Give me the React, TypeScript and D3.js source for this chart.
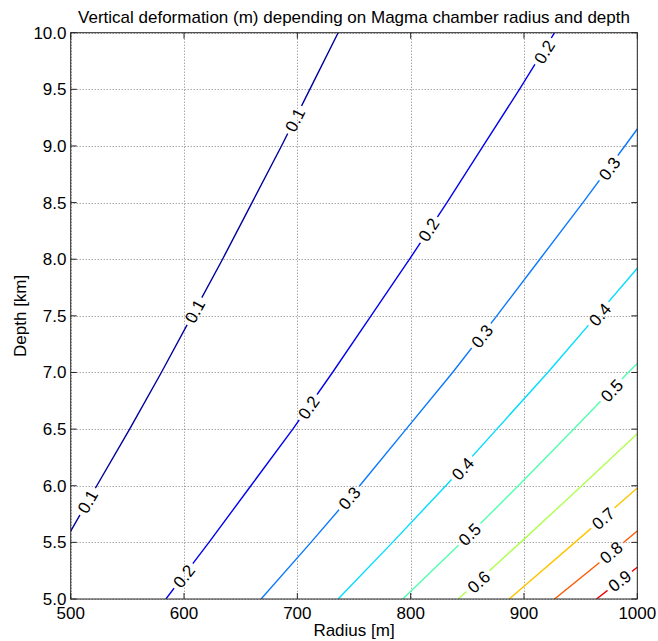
import React from "react";
import * as d3 from "d3";

const W = 658;
const H = 641;
const plotLeft = 70.7;
const plotRight = 637.3;
const plotTop = 32.7;
const plotBottom = 599;

const FONT = "'Liberation Sans', Arial, Helvetica, sans-serif";

const titleText = "Vertical deformation (m) depending on Magma chamber radius and depth";
const xLabelText = "Radius [m]";
const yLabelText = "Depth [km]";

const xTicks = [500, 600, 700, 800, 900, 1000];
const xTickLabels = ["500", "600", "700", "800", "900", "1000"];
const yTicks = [5.0, 5.5, 6.0, 6.5, 7.0, 7.5, 8.0, 8.5, 9.0, 9.5, 10.0];
const yTickLabels = ["5.0", "5.5", "6.0", "6.5", "7.0", "7.5", "8.0", "8.5", "9.0", "9.5", "10.0"];

const contourLevels = [0.1, 0.2, 0.3, 0.4, 0.5, 0.6, 0.7, 0.8, 0.9];
const levelColors = ["#0000a0", "#0000f0", "#0a78ff", "#00ddff", "#50ffaf", "#afff50", "#ffc400", "#ff5a00", "#f00000"];

// contour lines as [radius (m), depth (km)]
const contour01 = [[500, 5.6], [523, 6.0], [552, 6.5], [580, 7.0], [607, 7.5], [634, 8.0], [660, 8.5], [686, 9.0], [711, 9.5], [736, 10.0]];
const contour02 = [[584, 5.0], [622, 5.5], [659, 6.0], [696, 6.5], [731, 7.0], [765, 7.5], [799, 8.0], [832, 8.5], [864, 9.0], [896, 9.5], [927, 10.0]];
const contour03 = [[668, 5.0], [712, 5.5], [755, 6.0], [796, 6.5], [837, 7.0], [876, 7.5], [914, 8.0], [952, 8.5], [989, 9.0], [1000, 9.15]];
const contour04 = [[736, 5.0], [784, 5.5], [831, 6.0], [876, 6.5], [921, 7.0], [964, 7.5], [1000, 7.92]];
const contour05 = [[793, 5.0], [845, 5.5], [895, 6.0], [944, 6.5], [992, 7.0], [1000, 7.08]];
const contour06 = [[842, 5.0], [897, 5.5], [951, 6.0], [1000, 6.46]];
const contour07 = [[887, 5.0], [945, 5.5], [1000, 5.98]];
const contour08 = [[927, 5.0], [964, 5.3], [1000, 5.6]];
const contour09 = [[964, 5.0], [982, 5.14], [1000, 5.28]];

// inline label positions [radius, depth]
const labels01 = [[515, 5.86], [609.5, 7.54], [698, 9.23]];
const labels02 = [[600, 5.2], [710, 6.69], [816, 8.26], [918, 9.83]];
const labels03 = [[746, 5.89], [863, 7.32], [975.5, 8.8]];
const labels04 = [[846, 6.15], [967, 7.51]];
const labels05 = [[852, 5.57], [977.5, 6.84]];
const labels06 = [[860, 5.15]];
const labels07 = [[970, 5.71]];
const labels08 = [[977, 5.41]];
const labels09 = [[984.5, 5.16]];

const contourLines = [contour01, contour02, contour03, contour04, contour05, contour06, contour07, contour08, contour09];
const contourLabels = [labels01, labels02, labels03, labels04, labels05, labels06, labels07, labels08, labels09];

const FS = 17;

export default function App() {
  const x = d3.scaleLinear().domain([500, 1000]).range([plotLeft, plotRight]);
  const y = d3.scaleLinear().domain([5, 10]).range([plotBottom, plotTop]);
  const line = d3
    .line<number[]>()
    .x((d) => x(d[0]))
    .y((d) => y(d[1]));

  const labelItems: { cx: number; cy: number; angle: number; text: string; color: string; key: string }[] = [];
  contourLabels.forEach((labs, li) => {
    const pts = contourLines[li];
    labs.forEach((p, k) => {
      let i = 0;
      for (let j = 0; j < pts.length - 1; j++) {
        if (p[1] >= pts[j][1] && p[1] <= pts[j + 1][1]) {
          i = j;
          break;
        }
      }
      const a = pts[i];
      const b = pts[i + 1];
      const dx = x(b[0]) - x(a[0]);
      const dy = y(b[1]) - y(a[1]);
      const angle = (Math.atan2(dy, dx) * 180) / Math.PI;
      labelItems.push({
        cx: x(p[0]),
        cy: y(p[1]),
        angle,
        text: String(contourLevels[li]),
        color: levelColors[li],
        key: `${li}-${k}`,
      });
    });
  });

  const gapW = 31;
  const gapH = 16;
  const tickLen = 6;
  const axisColor = "#262626";

  return (
    <svg
      width={W}
      height={H}
      style={{ position: "absolute", left: 0, top: 0, background: "#fff" }}
      fontFamily={FONT}
    >
      <defs>
        <clipPath id="plotClip">
          <rect x={plotLeft} y={plotTop} width={plotRight - plotLeft} height={plotBottom - plotTop} />
        </clipPath>
        <mask id="gapMask" maskUnits="userSpaceOnUse" x={0} y={0} width={W} height={H}>
          <rect x={0} y={0} width={W} height={H} fill="white" />
          {labelItems.map((l) => (
            <rect
              key={l.key}
              x={-gapW / 2}
              y={-gapH / 2}
              width={gapW}
              height={gapH}
              fill="black"
              transform={`translate(${l.cx},${l.cy}) rotate(${l.angle})`}
            />
          ))}
        </mask>
      </defs>
      <rect x={0} y={0} width={W} height={H} fill="#fff" />

      {/* grid */}
      <g stroke="#808080" strokeWidth={1} strokeDasharray="1,2">
        {xTicks.map((t) => (
          <line key={`gx${t}`} x1={Math.round(x(t)) + 0.5} x2={Math.round(x(t)) + 0.5} y1={plotTop} y2={plotBottom} />
        ))}
        {yTicks.map((t) => (
          <line key={`gy${t}`} x1={plotLeft} x2={plotRight} y1={Math.round(y(t)) + 0.5} y2={Math.round(y(t)) + 0.5} />
        ))}
      </g>

      {/* contour lines */}
      <g clipPath="url(#plotClip)">
        <g mask="url(#gapMask)">
          {contourLines.map((pts, i) => (
            <path key={`c${i}`} d={line(pts) || ""} fill="none" stroke={levelColors[i]} strokeWidth={1.4} />
          ))}
        </g>
      </g>

      {/* contour labels */}
      {labelItems.map((l) => (
        <text
          key={`t${l.key}`}
          transform={`translate(${l.cx},${l.cy}) rotate(${l.angle})`}
          textAnchor="middle"
          dy="0.35em"
          fontSize={FS}
          fill="#000"
        >
          {l.text}
        </text>
      ))}

      {/* box and ticks */}
      <g stroke={axisColor} strokeWidth={1}>
        <rect
          x={plotLeft}
          y={plotTop}
          width={plotRight - plotLeft}
          height={plotBottom - plotTop}
          fill="none"
        />
        {xTicks.map((t) => (
          <g key={`tx${t}`}>
            <line x1={x(t)} x2={x(t)} y1={plotBottom} y2={plotBottom - tickLen} />
            <line x1={x(t)} x2={x(t)} y1={plotTop} y2={plotTop + tickLen} />
          </g>
        ))}
        {yTicks.map((t) => (
          <g key={`ty${t}`}>
            <line x1={plotLeft} x2={plotLeft + tickLen} y1={y(t)} y2={y(t)} />
            <line x1={plotRight} x2={plotRight - tickLen} y1={y(t)} y2={y(t)} />
          </g>
        ))}
      </g>

      {/* tick labels */}
      <g fontSize={FS} fill="#000">
        {xTicks.map((t, i) => (
          <text key={`xl${t}`} x={x(t)} y={618.5} textAnchor="middle">
            {xTickLabels[i]}
          </text>
        ))}
        {yTicks.map((t, i) => (
          <text key={`yl${t}`} x={66.5} y={y(t)} dy="0.35em" textAnchor="end">
            {yTickLabels[i]}
          </text>
        ))}
      </g>

      {/* axis labels and title */}
      <text x={(plotLeft + plotRight) / 2} y={635.5} textAnchor="middle" fontSize={FS} fill="#000">
        {xLabelText}
      </text>
      <text
        transform={`translate(26,${(plotTop + plotBottom) / 2}) rotate(-90)`}
        textAnchor="middle"
        fontSize={FS}
        fill="#000"
      >
        {yLabelText}
      </text>
      <text x={(plotLeft + plotRight) / 2} y={23} textAnchor="middle" fontSize={FS} fill="#000">
        {titleText}
      </text>
    </svg>
  );
}
